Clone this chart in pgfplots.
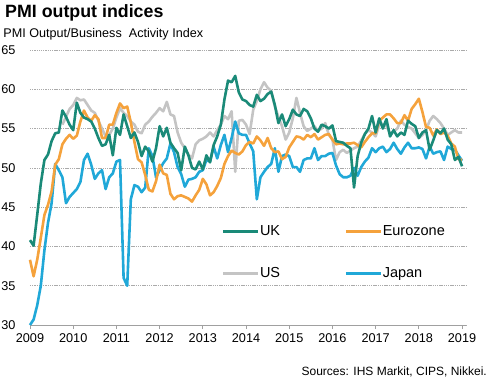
\documentclass[border=0pt]{standalone}
\usepackage{fontspec}
\setmainfont{Liberation Sans}
\usepackage{pgfplots}
\usepackage{pgfplotstable}
\pgfplotsset{compat=1.18}
\definecolor{ukc}{RGB}{26,138,120}
\definecolor{ezc}{RGB}{245,162,60}
\definecolor{usc}{RGB}{196,196,196}
\definecolor{jpc}{RGB}{32,168,216}
\definecolor{gridc}{RGB}{170,170,170}
\definecolor{axc}{RGB}{160,160,160}

\pgfplotstableread{
m uk ez us jp
0 40.8 38.3 nan 30.0
1 40.1 36.2 nan 30.7
2 44.0 38.3 nan 32.5
3 48.0 41.1 nan 35.0
4 51.0 44.0 nan 39.5
5 51.7 45.3 nan 43.0
6 53.4 47.0 nan 45.5
7 54.4 50.4 nan 50.5
8 54.5 51.1 nan 49.7
9 57.3 53.0 55.5 48.8
10 56.5 53.7 56.5 45.5
11 55.5 54.2 57.5 46.3
12 54.8 53.7 58.0 46.8
13 58.3 54.1 58.9 47.3
14 57.0 55.9 58.6 48.2
15 56.4 57.3 58.7 51.0
16 56.2 56.4 58.0 51.8
17 55.9 56.0 57.3 50.4
18 55.0 56.7 57.0 48.6
19 53.8 56.2 56.0 49.3
20 52.8 53.8 55.0 49.7
21 53.0 53.8 54.0 47.3
22 54.2 55.5 54.2 48.8
23 51.6 55.5 55.0 49.3
24 55.1 57.0 56.4 50.8
25 54.2 58.2 57.6 51.0
26 56.8 57.6 57.0 36.0
27 55.3 57.8 56.6 35.0
28 53.8 55.8 55.9 46.0
29 54.5 53.3 55.5 47.8
30 53.3 51.1 54.6 47.6
31 51.5 50.7 54.4 46.9
32 52.7 49.1 55.5 47.5
33 52.1 47.2 55.9 52.5
34 50.8 47.0 56.5 51.5
35 52.5 48.3 57.0 48.8
36 55.3 50.4 57.6 49.7
37 54.0 49.3 57.2 50.6
38 55.1 49.1 58.4 51.2
39 53.2 46.7 56.8 53.1
40 52.5 46.0 56.6 52.0
41 51.9 46.4 54.5 50.1
42 49.7 46.5 53.2 49.2
43 52.7 46.3 52.5 47.6
44 51.6 46.1 51.7 48.5
45 50.0 45.7 51.2 48.6
46 49.8 46.5 53.0 48.8
47 50.8 47.2 53.5 49.5
48 49.8 48.6 53.7 49.7
49 51.6 47.9 54.0 51.0
50 50.7 46.5 54.5 50.8
51 52.9 46.9 54.0 52.7
52 54.0 47.7 54.8 51.2
53 55.5 48.7 55.5 52.9
54 58.7 50.5 56.6 54.2
55 61.1 51.5 56.2 52.0
56 60.9 52.2 57.2 53.8
57 61.7 51.9 49.5 55.9
58 59.6 51.7 56.0 54.4
59 58.7 52.1 56.1 54.2
60 58.5 52.9 55.5 54.2
61 58.0 53.3 54.3 53.1
62 57.8 53.1 57.4 52.1
63 59.3 54.0 58.5 46.0
64 58.5 53.5 60.0 48.8
65 58.8 52.8 60.9 49.5
66 59.4 53.8 60.2 50.1
67 59.7 52.5 59.8 50.5
68 58.0 52.0 57.8 52.5
69 55.7 52.1 56.5 49.5
70 56.8 51.1 55.3 51.5
71 55.3 51.4 53.6 51.7
72 56.2 52.6 54.5 51.5
73 57.4 53.3 56.3 50.1
74 56.8 54.0 58.9 50.1
75 56.6 53.9 57.0 49.5
76 57.5 53.6 55.3 51.0
77 57.2 54.2 54.7 51.2
78 56.3 53.9 55.0 51.2
79 55.0 54.3 55.3 52.5
80 54.6 53.6 54.7 51.0
81 55.5 53.9 55.0 51.5
82 55.3 54.2 55.7 51.5
83 55.0 54.3 54.2 51.8
84 55.4 53.6 53.6 51.9
85 53.4 53.0 51.0 50.3
86 53.3 53.1 52.0 49.2
87 53.2 53.0 52.3 48.8
88 52.8 53.1 51.9 48.8
89 52.5 53.1 52.2 49.0
90 47.5 53.2 52.5 50.0
91 51.5 52.9 52.7 49.0
92 53.2 52.6 53.5 50.1
93 54.3 53.3 54.3 50.8
94 55.0 53.9 54.8 51.3
95 56.6 54.4 54.5 52.5
96 54.5 54.4 54.0 52.0
97 56.3 56.0 55.5 52.5
98 55.0 56.4 55.6 52.7
99 56.2 56.8 55.3 52.0
100 54.0 56.8 54.4 52.4
101 54.8 56.3 54.6 53.2
102 54.0 55.7 55.0 52.4
103 54.5 55.7 56.0 51.8
104 54.2 56.7 55.5 52.6
105 56.0 56.0 55.2 53.2
106 55.6 57.5 55.0 52.5
107 55.3 58.1 54.4 52.5
108 53.8 58.8 53.8 52.6
109 54.5 57.1 54.2 52.4
110 54.8 55.2 54.8 51.2
111 52.3 55.1 56.0 52.7
112 53.5 54.1 56.6 51.8
113 54.8 54.9 56.2 52.0
114 54.4 54.3 55.7 52.1
115 55.0 54.5 55.0 51.0
116 53.6 54.1 54.2 52.7
117 53.0 53.1 54.5 52.4
118 51.0 52.7 54.8 52.3
119 51.4 51.1 54.5 51.6
120 50.2 51.0 54.5 50.9
}\pmidata

\begin{document}
\begin{tikzpicture}[x=1bp,y=1bp]
\useasboundingbox (-30,-56) rectangle (462,325);
\begin{axis}[
  at={(0,0)}, anchor=south west,
  width=436bp, height=275bp, scale only axis,
  xmin=0, xmax=121.1, ymin=30, ymax=65,
  xtick={0,12,24,36,48,60,72,84,96,108,120},
  xticklabels={2009,2010,2011,2012,2013,2014,2015,2016,2017,2018,2019},
  ytick={30,35,40,45,50,55,60,65},
  axis x line*=bottom, axis y line*=left,
  x axis line style={-, draw=axc, line width=0.9bp},
  y axis line style={draw=none},
  xtick style={draw=axc, line width=0.8bp},
  ytick style={draw=none},
  tick align=outside, major tick length=4bp,
  ymajorgrids,
  major grid style={draw=gridc, line width=0.6bp, dash pattern=on 1.3bp off 0.9bp},
  tick label style={font=\fontsize{12.7bp}{15bp}\selectfont, text=black},
  /pgf/number format/assume math mode=true,
  yticklabel style={xshift=-7bp},
  xticklabel style={yshift=-1.5bp},
  clip=false,
  legend columns=2,
  legend image code/.code={\draw[#1, line width=2.6bp] (0bp,0bp) -- (35bp,0bp);},
  legend style={
    at={(0.4397,0.2636)}, anchor=west,
    draw=none, fill=none, inner sep=0pt,
    font=\fontsize{14.5bp}{17bp}\selectfont,
    nodes={inner sep=0.5bp, text height=10.5bp, text depth=3bp},
    /tikz/every even column/.append style={column sep=64bp},
    row sep=28bp,
  },
  legend cell align=left,
]
\addlegendimage{ukc}
\addlegendentry{UK}
\addlegendimage{ezc}
\addlegendentry{Eurozone}
\addlegendimage{usc}
\addlegendentry{US}
\addlegendimage{jpc}
\addlegendentry{Japan}
\addplot[forget plot, usc, line width=2.6bp, line join=round] table[x=m, y=us] {\pmidata};
\addplot[forget plot, jpc, line width=2.6bp, line join=round] table[x=m, y=jp] {\pmidata};
\addplot[forget plot, ezc, line width=2.6bp, line join=round] table[x=m, y=ez] {\pmidata};
\addplot[forget plot, ukc, line width=2.6bp, line join=round] table[x=m, y=uk] {\pmidata};
\end{axis}
\node[anchor=base west, inner sep=0pt, font=\fontsize{17.8bp}{20bp}\selectfont\bfseries] at (-25,307.7) {PMI output indices};
\node[anchor=base west, inner sep=0pt, font=\fontsize{12.6bp}{15bp}\selectfont] at (-26.7,287.7) {PMI Output/Business\ \ Activity Index};
\node[anchor=base east, inner sep=0pt, font=\fontsize{12bp}{14bp}\selectfont] at (457,-50.7) {Sources: IHS Markit, CIPS, Nikkei.};
\end{tikzpicture}
\end{document}
